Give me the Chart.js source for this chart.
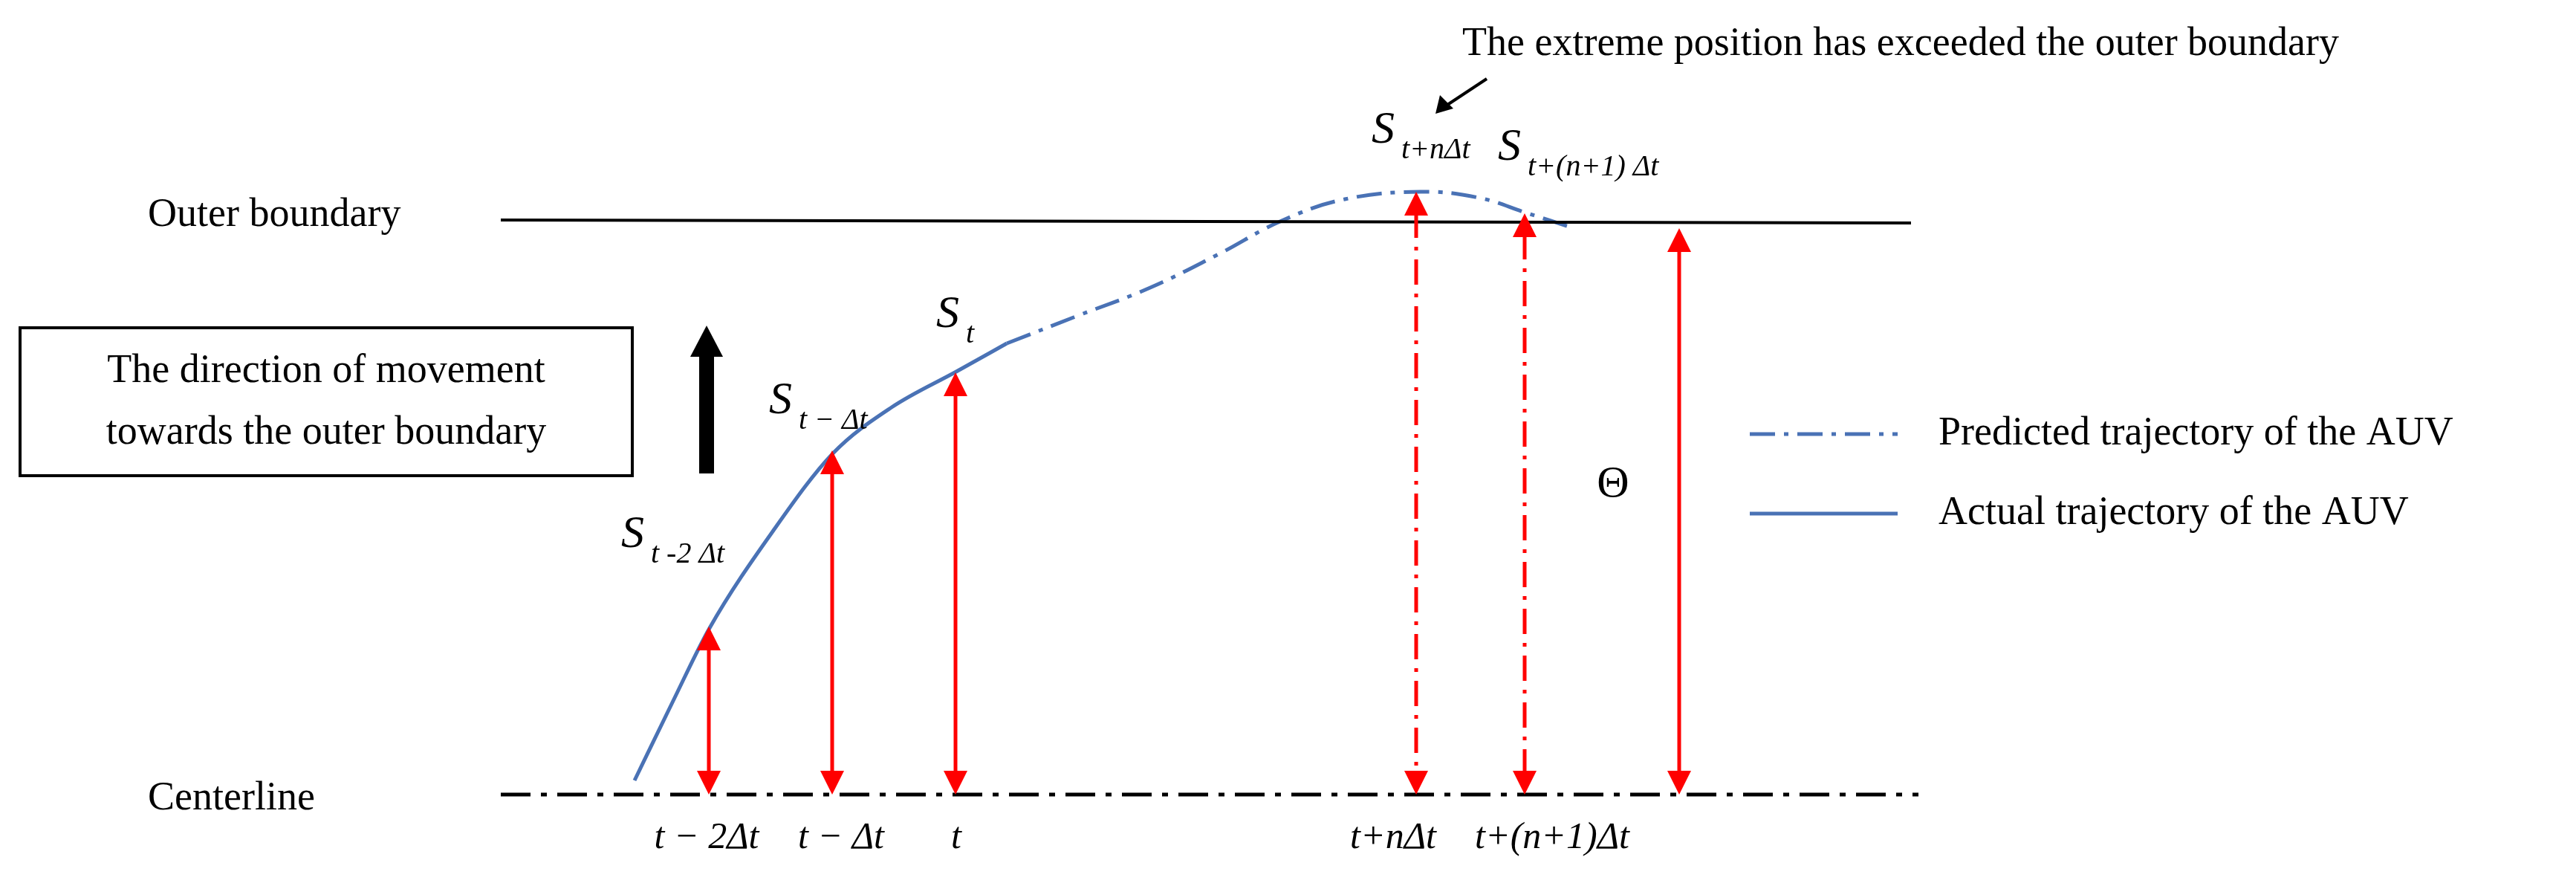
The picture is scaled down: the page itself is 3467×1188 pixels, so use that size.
<!DOCTYPE html>
<html><head><meta charset="utf-8">
<script src="https://cdn.jsdelivr.net/npm/chart.js@4"></script>
<style>html,body{margin:0;padding:0;background:#fff;overflow:hidden}</style>
</head><body>
<canvas id="c" width="3467" height="1188"></canvas>
<script>
const actualX = [854, 905, 955, 1040, 1121, 1200, 1287, 1355];
const actualY = [1050, 945, 845, 715, 610, 548, 500, 462];
const predictedX = [1355, 1450, 1548, 1640, 1725, 1810, 1912, 1990, 2056, 2118];
const predictedY = [462, 425, 387, 342, 297, 268, 258, 266, 287, 307];
const boundaryX = [674, 2572];
const boundaryY = [296, 300];
const centerX = [674, 2582];
const centerY = [1069, 1069];
const arrowX = [954, 1120, 1286, 1906, 2052, 2260];
const arrowTop = [843, 606, 501, 258, 287, 307];
const arrowDashed = [false, false, false, true, true, false];
const tickLabels = [["t − 2Δt", 951], ["t − Δt", 1132], ["t", 1287], ["t+nΔt", 1875], ["t+(n+1)Δt", 2089]];
const sLabels = [["t -2 Δt", 836, 720], ["t − Δt", 1035, 540], ["t", 1260, 424], ["t+nΔt", 1846, 176], ["t+(n+1) Δt", 2016, 199]];

const blue = '#4a72b5';
const DD = [34, 12, 6, 12];
const pts = (xs, ys) => xs.map((x, i) => ({x, y: ys[i]}));

const SERIF = '"Liberation Serif", "DejaVu Serif", serif';

const drawPlugin = {
  id: 'diagram',
  afterDatasetsDraw(chart) {
    const c = chart.ctx, X = chart.scales.x, Y = chart.scales.y;
    const px = v => X.getPixelForValue(v), py = v => Y.getPixelForValue(v);
    c.save();
    // red arrows
    arrowX.forEach((x, i) => {
      const xx = px(x), t = py(arrowTop[i]), b = py(1069);
      c.strokeStyle = '#ff0000'; c.fillStyle = '#ff0000'; c.lineWidth = 5;
      c.setLineDash(arrowDashed[i] ? [34, 12, 5, 12] : []);
      c.beginPath(); c.moveTo(xx, t + 28); c.lineTo(xx, b - 28); c.stroke();
      c.setLineDash([]);
      c.beginPath(); c.moveTo(xx, t); c.lineTo(xx - 16, t + 32); c.lineTo(xx + 16, t + 32); c.closePath(); c.fill();
      c.beginPath(); c.moveTo(xx, b); c.lineTo(xx - 16, b - 32); c.lineTo(xx + 16, b - 32); c.closePath(); c.fill();
    });
    // black up arrow
    c.fillStyle = '#000';
    c.fillRect(px(951) - 10, py(478), 20, py(637) - py(478));
    c.beginPath(); c.moveTo(px(951), py(438)); c.lineTo(px(951) - 22, py(480)); c.lineTo(px(951) + 22, py(480)); c.closePath(); c.fill();
    // box
    c.strokeStyle = '#000'; c.lineWidth = 4;
    c.strokeRect(px(27), py(441), px(851) - px(27), py(640) - py(441));
    // pointer arrow
    c.lineWidth = 4;
    c.beginPath(); c.moveTo(px(2001), py(106)); c.lineTo(px(1945), py(143)); c.stroke();
    c.beginPath(); c.moveTo(px(1932), py(153)); c.lineTo(px(1938), py(128)); c.lineTo(px(1956), py(146)); c.closePath(); c.fill();
    // legend lines
    c.strokeStyle = blue; c.lineWidth = 5;
    c.setLineDash(DD);
    c.beginPath(); c.moveTo(px(2355), py(584)); c.lineTo(px(2554), py(584)); c.stroke();
    c.setLineDash([]);
    c.beginPath(); c.moveTo(px(2355), py(691)); c.lineTo(px(2554), py(691)); c.stroke();
    // texts
    c.fillStyle = '#000'; c.textBaseline = 'middle';
    c.font = '54px ' + SERIF;
    c.textAlign = 'left';
    c.fillText('Outer boundary', px(199), py(290));
    c.fillText('Centerline', px(199), py(1075));
    c.fillText('Predicted trajectory of the AUV', px(2609), py(584));
    c.fillText('Actual trajectory of the AUV', px(2609), py(691));
    c.fillText('The extreme position has exceeded the outer boundary', px(1968), py(60));
    c.textAlign = 'center';
    c.fillText('The direction of movement', px(439), py(500));
    c.fillText('towards the outer boundary', px(439), py(583));
    c.font = '60px ' + SERIF;
    c.fillText('Θ', px(2171), py(652));
    // tick labels
    c.font = 'italic 50px ' + SERIF;
    tickLabels.forEach(([s, x]) => c.fillText(s, px(x), py(1128)));
    // S labels
    sLabels.forEach(([sub, x, y]) => {
      c.textAlign = 'left';
      c.font = 'italic 62px ' + SERIF;
      c.fillText('S', px(x), py(y));
      c.font = 'italic 40px ' + SERIF;
      c.fillText(sub, px(x) + 40, py(y) + 26);
    });
    c.restore();
  }
};

new Chart(document.getElementById('c'), {
  type: 'scatter',
  data: { datasets: [
    { data: pts(boundaryX, boundaryY), showLine: true, borderColor: '#000', borderWidth: 4, pointRadius: 0 },
    { data: pts(centerX, centerY), showLine: true, borderColor: '#000', borderWidth: 5, borderDash: [40, 14, 8, 14], pointRadius: 0 },
    { data: pts(actualX, actualY), showLine: true, borderColor: blue, borderWidth: 5, pointRadius: 0, cubicInterpolationMode: 'monotone' },
    { data: pts(predictedX, predictedY), showLine: true, borderColor: blue, borderWidth: 5, borderDash: DD, pointRadius: 0, tension: 0.4 }
  ]},
  options: {
    responsive: false, animation: false, devicePixelRatio: 1,
    layout: { padding: 0 },
    plugins: { legend: { display: false }, tooltip: { enabled: false } },
    scales: {
      x: { type: 'linear', min: 0, max: 3467, display: false },
      y: { type: 'linear', min: 0, max: 1188, reverse: true, display: false }
    }
  },
  plugins: [drawPlugin]
});
</script>
</body></html>
